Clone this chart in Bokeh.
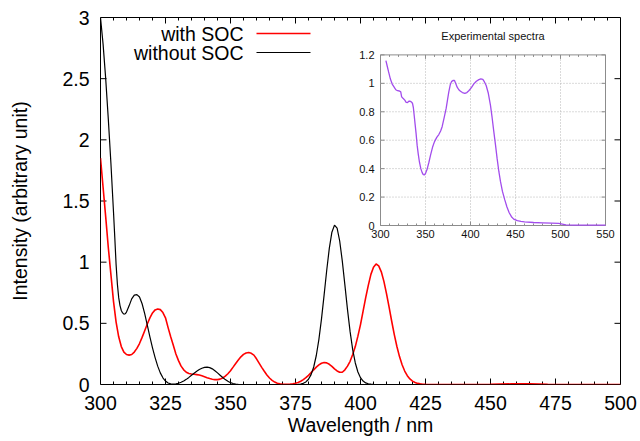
from bokeh.plotting import figure
from bokeh.models import Range1d, FixedTicker
from bokeh.core.properties import value
from bokeh.embed import file_html
from bokeh.resources import INLINE

# ---------------- data ----------------
# Calculated spectrum without spin-orbit coupling (black)
wl_nosoc = [300, 301, 302, 303, 304, 305, 305.5, 306, 306.5, 307, 307.5, 308, 308.5, 309, 309.5,
            310, 311, 312, 313, 314, 315, 316, 317, 318, 319, 320, 321, 322, 323, 324,
            325, 326, 327, 328, 329, 330, 331, 332, 333, 334, 335, 336, 337, 338, 339,
            340, 341, 342, 343, 344, 345, 346, 347, 348, 349, 350, 351, 352, 353, 355,
            360, 370, 376, 377, 378, 379, 380, 381, 382, 383, 384, 385, 386, 387, 388,
            389, 390, 391, 392, 393, 394, 395, 396, 397, 398, 399, 400, 401, 402, 403,
            404, 405, 410, 450, 500]
int_nosoc = [3.0, 2.78, 2.5, 2.17, 1.81, 1.41, 1.2, 0.98, 0.82, 0.71, 0.645, 0.605, 0.585, 0.575, 0.578,
             0.592, 0.643, 0.7, 0.731, 0.735, 0.715, 0.66, 0.58, 0.485, 0.39, 0.3, 0.22, 0.15, 0.095, 0.055,
             0.028, 0.012, 0.005, 0.003, 0.005, 0.01, 0.018, 0.028, 0.042, 0.058, 0.075, 0.092, 0.108, 0.122, 0.133,
             0.14, 0.142, 0.138, 0.128, 0.113, 0.095, 0.076, 0.057, 0.04, 0.026, 0.015, 0.008, 0.004, 0.002, 0.0,
             0.0, 0.0, 0.0015, 0.004, 0.0098, 0.021, 0.043, 0.081, 0.143, 0.237, 0.369, 0.536, 0.731, 0.932, 1.113,
             1.245, 1.303, 1.278, 1.173, 1.009, 0.812, 0.612, 0.432, 0.285, 0.176, 0.102, 0.056, 0.028, 0.013, 0.006,
             0.0025, 0.001, 0.0, 0.0, 0.0]

# Calculated spectrum with spin-orbit coupling (red)
wl_soc = [300, 301, 302, 303, 304, 305, 306, 307, 308, 309, 310, 311, 312, 313, 314,
          315, 316, 317, 318, 319, 320, 321, 322, 323, 324, 325, 326, 327, 328, 329,
          330, 331, 332, 333, 334, 335, 336, 337, 338, 339, 340, 341, 342, 343, 344,
          345, 346, 347, 348, 349, 350, 351, 352, 353, 354, 355, 356, 357, 358, 359,
          360, 361, 362, 363, 364, 365, 366, 367, 368, 369, 370, 371, 372, 373, 374,
          375, 376, 377, 378, 379, 380, 381, 382, 383, 384, 385, 386, 387, 388, 389,
          390, 391, 392, 393, 394, 395, 396, 397, 398, 399, 400, 401, 402, 403, 404,
          405, 406, 407, 408, 409, 410, 411, 412, 413, 414, 415, 416, 417, 418, 419,
          420, 421, 422, 423, 424, 425, 440, 450, 458, 465, 472, 480, 500]
int_soc = [1.85, 1.61, 1.37, 1.12, 0.9, 0.68, 0.51, 0.39, 0.31, 0.265, 0.245, 0.24, 0.245, 0.265, 0.295,
           0.335, 0.385, 0.44, 0.495, 0.545, 0.585, 0.61, 0.618, 0.612, 0.588, 0.545, 0.465, 0.39, 0.32, 0.25,
           0.195, 0.15, 0.12, 0.1, 0.09, 0.086, 0.084, 0.081, 0.077, 0.071, 0.064, 0.056, 0.049, 0.043, 0.04,
           0.04, 0.044, 0.053, 0.068, 0.088, 0.113, 0.142, 0.172, 0.2, 0.226, 0.246, 0.258, 0.262, 0.255, 0.24,
           0.21, 0.175, 0.14, 0.108, 0.078, 0.053, 0.034, 0.02, 0.011, 0.005, 0.002, 0.001, 0.002, 0.003, 0.005,
           0.01, 0.017, 0.027, 0.04, 0.056, 0.075, 0.097, 0.12, 0.142, 0.16, 0.174, 0.18, 0.177, 0.165, 0.148,
           0.128, 0.111, 0.1, 0.1, 0.12, 0.15, 0.19, 0.245, 0.31, 0.395, 0.49, 0.6, 0.71, 0.81, 0.9,
           0.958, 0.985, 0.97, 0.921, 0.843, 0.743, 0.632, 0.517, 0.408, 0.311, 0.228, 0.161, 0.11, 0.072, 0.045,
           0.028, 0.016, 0.009, 0.005, 0.0025, 0.001, 0.0, 0.002, 0.005, 0.005, 0.002, 0.0, 0.0]

# Experimental spectrum (inset)
wl_exp = [306, 307.5, 309, 311, 313, 315, 317, 319, 321, 322.5, 323.5, 325, 327, 328.5, 330,
          331.5, 333, 334.5, 335.5, 336.5, 337.5, 338.5, 339.5, 340.7, 342, 343.3, 344.8, 346.3, 347.5, 348.9,
          350.3, 351.9, 353.8, 355.6, 357.8, 360, 362.5, 364.8, 366.8, 368.5, 370.8, 373, 374.5, 375.9, 377.5,
          378.9, 380.5, 382.2, 383.8, 385.2, 387, 388.9, 391, 393.7, 396, 398.1, 401, 403.7, 406.5, 409.3,
          411.5, 413.7, 415.5, 417.4, 419.8, 422.2, 424, 425.9, 427.8, 429.6, 431.5, 433.3, 435.5, 438.1, 440.5,
          443, 445.5, 448, 452, 456, 460, 470, 480, 490, 498, 502, 506, 515, 530, 550]
abs_exp = [1.16, 1.12, 1.08, 1.03, 0.995, 0.975, 0.955, 0.948, 0.946, 0.94, 0.905, 0.895, 0.882, 0.866, 0.865,
           0.874, 0.874, 0.868, 0.86, 0.83, 0.77, 0.71, 0.65, 0.565, 0.5, 0.445, 0.4, 0.372, 0.358, 0.356,
           0.37, 0.398, 0.445, 0.495, 0.55, 0.59, 0.62, 0.64, 0.665, 0.695, 0.76, 0.825, 0.885, 0.94, 0.99,
           1.012, 1.02, 1.02, 0.995, 0.973, 0.955, 0.944, 0.935, 0.93, 0.935, 0.948, 0.97, 0.996, 1.015, 1.026,
           1.031, 1.028, 1.01, 0.985, 0.93, 0.845, 0.76, 0.66, 0.565, 0.47, 0.38, 0.31, 0.24, 0.18, 0.13,
           0.09, 0.062, 0.045, 0.034, 0.029, 0.025, 0.021, 0.019, 0.017, 0.015, 0.01, 0.005, 0.003, 0.002, 0.002]

series_labels = ["with SOC", "without SOC"]
x_ticks = [300, 325, 350, 375, 400, 425, 450, 475, 500]
x_minor_ticks = [t for t in range(300, 501, 5) if t not in x_ticks]
y_ticks = [0, 0.5, 1, 1.5, 2, 2.5, 3]
y_tick_labels = ["0", "0.5", "1", "1.5", "2", "2.5", "3"]
inset_x_ticks = [300, 350, 400, 450, 500, 550]
inset_x_tick_labels = ["300", "350", "400", "450", "500", "550"]
inset_x_minor_ticks = [t for t in range(300, 551, 10) if t not in inset_x_ticks]
inset_y_ticks = [0, 0.2, 0.4, 0.6, 0.8, 1.0, 1.2]
inset_y_tick_labels = ["0", "0.2", "0.4", "0.6", "0.8", "1", "1.2"]
x_label = "Wavelength / nm"
y_label = "Intensity (arbitrary unit)"
inset_title = "Experimental spectra"

# ---------------- layout / style constants (pixels) ----------------
W, H = 640, 441
FRAME_L, FRAME_R, FRAME_T, FRAME_B = 100, 620, 17, 384
INSET_L, INSET_R, INSET_T, INSET_B = 380, 605, 54.4, 225
INSET_TITLE_Y = 35
FONT = "Liberation Sans"
FS = "19.5px"
IFS = "11px"
RED = "#ff0000"
BLACK = "#000000"
PURPLE = "#a24cec"
GRAY = "#8c8c8c"
GRID = "#b4b4b4"

X0, X1, Y0, Y1 = 300, 500, 0, 3
IX0, IX1, IY0, IY1 = 300, 550, 0, 1.2

# pixel scales of the main frame and of the inset frame
kx = (FRAME_R - FRAME_L) / (X1 - X0)
ky = (FRAME_B - FRAME_T) / (Y1 - Y0)
ikx = (INSET_R - INSET_L) / (IX1 - IX0)
iky = (INSET_B - INSET_T) / (IY1 - IY0)

p = figure(width=W, height=H, x_range=Range1d(X0, X1), y_range=Range1d(Y0, Y1),
           output_backend="svg", toolbar_location=None,
           min_border_left=FRAME_L, min_border_right=W - FRAME_R,
           min_border_top=FRAME_T, min_border_bottom=H - FRAME_B)
p.background_fill_color = "white"
p.border_fill_color = "white"
p.outline_line_color = "black"
p.outline_line_width = 1
p.xgrid.visible = False
p.ygrid.visible = False

# extra ranges so that the inset's data go through the library's scales
p.extra_x_ranges = {"ix": Range1d(IX0 - (INSET_L - FRAME_L) / ikx, IX1 + (FRAME_R - INSET_R) / ikx)}
p.extra_y_ranges = {"iy": Range1d(IY0 - (FRAME_B - INSET_B) / iky, IY1 + (INSET_T - FRAME_T) / iky)}

# axes: labels only, ticks drawn below as inward marks
for ax in (p.xaxis[0], p.yaxis[0]):
    ax.axis_line_color = None
    ax.major_tick_in = 0
    ax.major_tick_out = 0
    ax.minor_tick_in = 0
    ax.minor_tick_out = 0
    ax.major_label_text_font = FONT
    ax.major_label_text_font_size = FS
    ax.major_label_text_color = "black"
    ax.axis_label_text_font = FONT
    ax.axis_label_text_font_size = FS
    ax.axis_label_text_font_style = "normal"
    ax.axis_label_text_color = "black"
p.xaxis[0].ticker = FixedTicker(ticks=x_ticks, minor_ticks=[])
p.xaxis[0].major_label_standoff = 11
p.xaxis[0].axis_label = x_label
p.xaxis[0].axis_label_standoff = 1
p.yaxis[0].ticker = FixedTicker(ticks=y_ticks, minor_ticks=[])
p.yaxis[0].major_label_overrides = dict(zip(y_ticks, y_tick_labels))
p.yaxis[0].major_label_standoff = 11
p.yaxis[0].axis_label = y_label
p.yaxis[0].axis_label_standoff = 28

# inward tick marks of the main frame (bottom/top, left/right)
MAJ, MIN = 6, 3
p.segment(x0=x_ticks, y0=[Y0] * len(x_ticks), x1=x_ticks, y1=[Y0 + MAJ / ky] * len(x_ticks), line_color="black")
p.segment(x0=x_ticks, y0=[Y1] * len(x_ticks), x1=x_ticks, y1=[Y1 - MAJ / ky] * len(x_ticks), line_color="black")
p.segment(x0=x_minor_ticks, y0=[Y0] * len(x_minor_ticks), x1=x_minor_ticks,
          y1=[Y0 + MIN / ky] * len(x_minor_ticks), line_color="black")
p.segment(x0=x_minor_ticks, y0=[Y1] * len(x_minor_ticks), x1=x_minor_ticks,
          y1=[Y1 - MIN / ky] * len(x_minor_ticks), line_color="black")
p.segment(x0=[X0] * len(y_ticks), y0=y_ticks, x1=[X0 + MAJ / kx] * len(y_ticks), y1=y_ticks, line_color="black")
p.segment(x0=[X1] * len(y_ticks), y0=y_ticks, x1=[X1 - MAJ / kx] * len(y_ticks), y1=y_ticks, line_color="black")

# spectra
p.line(wl_soc, int_soc, line_color=RED, line_width=1.6)
p.line(wl_nosoc, int_nosoc, line_color=BLACK, line_width=1.2)

# key (gnuplot style: text then line sample), positioned in pixels
key_text_right = 243
key_line_px = (256, 310)
key_rows_px = [33, 52]
key_colors = [RED, BLACK]
key_widths = [1.6, 1.2]
key_y = [Y1 - (r - FRAME_T) / ky for r in key_rows_px]
p.text(x=[X0 + (key_text_right - FRAME_L) / kx] * 2, y=key_y, text=series_labels,
       text_align="right", text_baseline="middle", text_font=value(FONT),
       text_font_size=value(FS), text_color="black")
for yy, col, lw in zip(key_y, key_colors, key_widths):
    p.segment(x0=[X0 + (key_line_px[0] - FRAME_L) / kx], y0=[yy],
              x1=[X0 + (key_line_px[1] - FRAME_L) / kx], y1=[yy], line_color=col, line_width=lw)

# ---------------- inset (inside the same canvas, own ranges) ----------------
R = dict(x_range_name="ix", y_range_name="iy")
p.quad(left=[IX0], right=[IX1], bottom=[IY0], top=[IY1], fill_color="white", line_color=GRAY,
       line_width=1, **R)
gx = inset_x_ticks[1:-1]
gy = inset_y_ticks[1:-1]
p.segment(x0=gx, y0=[IY0] * len(gx), x1=gx, y1=[IY1] * len(gx), line_color=GRID,
          line_dash="1 2", line_width=1, **R)
p.segment(x0=[IX0] * len(gy), y0=gy, x1=[IX1] * len(gy), y1=gy, line_color=GRID,
          line_dash="1 2", line_width=1, **R)
IMAJ, IMIN = 4, 2
p.segment(x0=inset_x_ticks, y0=[IY0] * len(inset_x_ticks), x1=inset_x_ticks,
          y1=[IY0 + IMAJ / iky] * len(inset_x_ticks), line_color=GRAY, **R)
p.segment(x0=inset_x_ticks, y0=[IY1] * len(inset_x_ticks), x1=inset_x_ticks,
          y1=[IY1 - IMAJ / iky] * len(inset_x_ticks), line_color=GRAY, **R)
p.segment(x0=inset_x_minor_ticks, y0=[IY0] * len(inset_x_minor_ticks), x1=inset_x_minor_ticks,
          y1=[IY0 + IMIN / iky] * len(inset_x_minor_ticks), line_color=GRAY, **R)
p.segment(x0=inset_x_minor_ticks, y0=[IY1] * len(inset_x_minor_ticks), x1=inset_x_minor_ticks,
          y1=[IY1 - IMIN / iky] * len(inset_x_minor_ticks), line_color=GRAY, **R)
p.segment(x0=[IX0] * len(inset_y_ticks), y0=inset_y_ticks, x1=[IX0 + IMAJ / ikx] * len(inset_y_ticks),
          y1=inset_y_ticks, line_color=GRAY, **R)
p.segment(x0=[IX1] * len(inset_y_ticks), y0=inset_y_ticks, x1=[IX1 - IMAJ / ikx] * len(inset_y_ticks),
          y1=inset_y_ticks, line_color=GRAY, **R)

# inset tick labels and title
p.text(x=inset_x_ticks, y=[IY0 - 4 / iky] * len(inset_x_ticks), text=inset_x_tick_labels,
       text_align="center", text_baseline="top", text_font=value(FONT), text_font_size=value(IFS),
       text_color="#111111", **R)
p.text(x=[IX0 - 6 / ikx] * len(inset_y_ticks), y=inset_y_ticks, text=inset_y_tick_labels,
       text_align="right", text_baseline="middle", text_font=value(FONT), text_font_size=value(IFS),
       text_color="#111111", **R)
p.text(x=[(IX0 + IX1) / 2], y=[IY1 + (INSET_T - INSET_TITLE_Y) / iky], text=[inset_title],
       text_align="center", text_baseline="middle", text_font=value(FONT), text_font_size=value(IFS),
       text_color="#111111", **R)

# experimental curve
p.line(wl_exp, abs_exp, line_color=PURPLE, line_width=1.3, **R)

with open("out.html", "w") as f:
    f.write(file_html(p, INLINE))
